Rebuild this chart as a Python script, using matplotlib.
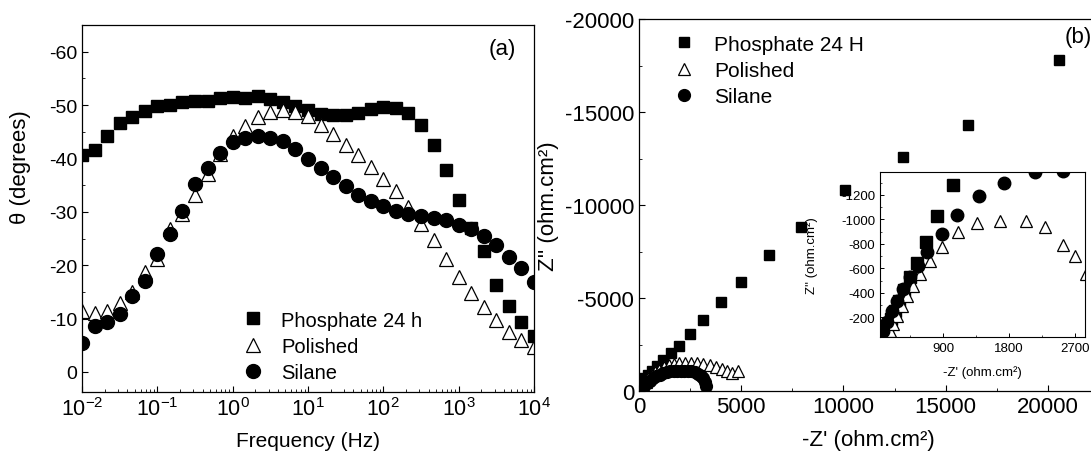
import matplotlib
matplotlib.use("Agg")
import matplotlib.pyplot as plt
import numpy as np
from matplotlib.ticker import MultipleLocator, FixedLocator, NullFormatter

plt.rcParams['font.family'] = ['Liberation Sans', 'DejaVu Sans']
plt.rcParams['mathtext.fontset'] = 'custom'
plt.rcParams['mathtext.rm'] = 'Liberation Sans'
plt.rcParams['mathtext.it'] = 'Liberation Sans:italic'
plt.rcParams['axes.unicode_minus'] = False

# ---- panel (a): Bode phase, 6 points per decade from 1e-2 to 1e4 Hz
freq_exp = np.arange(37) / 6.0 - 2
phase_phosphate = [-40.6, -41.5, -44.2, -46.7, -47.8, -48.8, -49.8, -50.1, -50.6, -50.7,
                   -50.7, -51.4, -51.5, -51.3, -51.7, -51.1, -50.5, -49.8, -49.0, -48.4,
                   -48.1, -48.2, -48.6, -49.2, -49.7, -49.5, -48.5, -46.3, -42.6, -37.8,
                   -32.2, -27.0, -22.6, -16.3, -12.4, -9.3, -6.8]
phase_polished = [-11.5, -11.1, -11.5, -13.0, -14.9, -18.7, -21.2, -26.8, -29.6, -33.1,
                  -37.1, -40.9, -44.3, -46.1, -47.8, -48.7, -49.0, -48.7, -48.0, -46.2,
                  -44.6, -42.6, -40.6, -38.4, -36.2, -33.9, -30.9, -27.7, -24.7, -21.2,
                  -17.7, -14.8, -12.1, -9.7, -7.5, -6.0, -4.6]
phase_silane = [-5.5, -8.6, -9.3, -10.8, -14.3, -17.1, -22.1, -25.9, -30.2, -35.3,
                -38.2, -41.1, -43.0, -43.8, -44.3, -43.8, -43.2, -41.8, -39.9, -38.2,
                -36.6, -34.8, -33.1, -32.1, -31.0, -30.2, -29.6, -29.3, -28.9, -28.4,
                -27.6, -26.8, -25.4, -23.7, -21.6, -19.4, -16.9]
freq_ticks = [1e-2, 1e-1, 1e0, 1e1, 1e2, 1e3, 1e4]

# ---- panel (b): Nyquist
phos_zr = [40, 80, 136, 256, 427, 630, 886, 1191, 1566, 1956, 2518, 3148, 3999, 4971,
           6350, 7948, 10075, 12900, 16087, 20560]
phos_zi = [-100, -250, -503, -683, -863, -1097, -1349, -1672, -2032, -2446, -3057, -3830,
           -4765, -5863, -7337, -8812, -10790, -12590, -14315, -17804]
pol_zr = [100, 200, 320, 460, 620, 800, 1000, 1200, 1450, 1700, 1950, 2250, 2550, 2850,
          3150, 3450, 3750, 4050, 4300, 4550, 4850]
pol_zi = [-150, -320, -500, -680, -850, -1000, -1150, -1280, -1400, -1470, -1510, -1530,
          -1530, -1510, -1470, -1400, -1300, -1180, -1060, -990, -1080]
sil_zr = [150, 260, 380, 520, 680, 850, 1020, 1190, 1360, 1530, 1700, 1870, 2040, 2210,
          2380, 2550, 2720, 2890, 3030, 3150, 3240, 3290]
sil_zi = [-120, -260, -420, -560, -690, -800, -880, -950, -1010, -1050, -1080, -1095,
          -1100, -1095, -1080, -1060, -1010, -940, -830, -680, -480, -250]

# inset (zoom on the high-frequency part)
ins_phos_zr = [67, 94, 135, 181, 240, 299, 363, 445, 546, 664, 819, 1038, 1300]
ins_phos_zi = [-63, -90, -131, -186, -254, -335, -423, -527, -644, -818, -1026, -1282, -1600]
ins_pol_zr = [117, 140, 172, 217, 263, 332, 400, 491, 582, 719, 880, 1107, 1358, 1677,
              2028, 2292, 2534, 2703, 2860]
ins_pol_zi = [-49, -65, -90, -145, -213, -294, -376, -458, -554, -663, -777, -895, -971,
              -990, -990, -941, -791, -703, -554]
ins_sil_zr = [80, 126, 195, 263, 354, 445, 560, 682, 879, 1084, 1394, 1736, 2156, 2543]
ins_sil_zi = [-90, -159, -254, -335, -431, -527, -622, -731, -881, -1036, -1189, -1298,
              -1386, -1399]

W, H = 1091, 452
fig = plt.figure(figsize=(W / 100, H / 100), dpi=100)

# ---------------- (a)
ax1 = fig.add_axes([82 / W, 1 - 393 / H, 452 / W, 367 / H])
f = 10 ** freq_exp
ax1.plot(f, phase_phosphate, 's', ms=8, color='black', mec='black', label='Phosphate 24 h')
ax1.plot(f, phase_polished, '^', ms=9.5, mfc='white', mec='black', mew=0.9, label='Polished')
ax1.plot(f, phase_silane, 'o', ms=10, color='black', label='Silane')
ax1.set_xscale('log')
ax1.set_xlim(1e-2, 1e4)
ax1.set_ylim(3.75, -65)
ax1.yaxis.set_major_locator(MultipleLocator(10))
ax1.yaxis.set_minor_locator(MultipleLocator(5))
ax1.set_xticks(freq_ticks)
minor_f = [m * 10.0 ** e for e in range(-2, 4) for m in range(2, 10)]
ax1.xaxis.set_minor_locator(FixedLocator(minor_f))
ax1.xaxis.set_minor_formatter(NullFormatter())
ax1.set_xlabel('Frequency (Hz)', fontsize=15)
ax1.set_ylabel('θ (degrees)', fontsize=16)
ax1.xaxis.set_label_coords(0.5, -0.106)
ax1.yaxis.set_label_coords(-0.113, 0.616)
ax1.text(0.929, 0.937, '(a)', transform=ax1.transAxes, fontsize=16, ha='center', va='center')
ax1.legend(loc='upper left', bbox_to_anchor=(0.357, 0.222), frameon=False, fontsize=14.5,
           borderpad=0, borderaxespad=0, handlelength=1.0, handletextpad=0.88,
           labelspacing=0.37, numpoints=1)

# ---------------- (b)
ax2 = fig.add_axes([639 / W, 1 - 392 / H, 460 / W, 372 / H])
ax2.plot(phos_zr, phos_zi, 's', ms=7.5, color='black', label='Phosphate 24 H')
ax2.plot(pol_zr, pol_zi, '^', ms=8.5, mfc='white', mec='black', mew=0.9, label='Polished')
ax2.plot(sil_zr, sil_zi, 'o', ms=8.5, color='black', label='Silane')
ax2.set_xlim(0, 22500)
ax2.set_ylim(0, -20000)
ax2.set_xticks([0, 5000, 10000, 15000, 20000])
ax2.xaxis.set_minor_locator(MultipleLocator(2500))
ax2.yaxis.set_major_locator(MultipleLocator(5000))
ax2.yaxis.set_minor_locator(MultipleLocator(2500))
ax2.set_xlabel("-Z' (ohm.cm²)", fontsize=16)
ax2.set_ylabel("Z'' (ohm.cm²)", fontsize=16)
ax2.xaxis.set_label_coords(0.498, -0.102)
ax2.yaxis.set_label_coords(-0.174, 0.5)
ax2.text(0.954, 0.952, '(b)', transform=ax2.transAxes, fontsize=16, ha='center', va='center')
ax2.legend(loc='upper left', bbox_to_anchor=(0.075, 0.958), frameon=False, fontsize=15,
           borderpad=0, borderaxespad=0, handlelength=1.0, handletextpad=0.94,
           labelspacing=0.35, numpoints=1)

for ax, fs in ((ax1, 14), (ax2, 16)):
    ax.tick_params(which='both', direction='in', top=False, right=False, labelsize=fs)
    ax.tick_params(which='major', length=4, width=0.8)
    ax.tick_params(which='minor', length=2, width=0.6)
    for s in ax.spines.values():
        s.set_linewidth(0.9)
ax1.tick_params(axis='x', labelsize=15.5)

# ---------------- inset
ax3 = fig.add_axes([880 / W, 1 - 338 / H, 205 / W, 165 / H])
ax3.plot(ins_phos_zr, ins_phos_zi, 's', ms=8, color='black')
ax3.plot(ins_pol_zr, ins_pol_zi, '^', ms=9, mfc='white', mec='black', mew=0.9)
ax3.plot(ins_sil_zr, ins_sil_zi, 'o', ms=9, color='black')
ax3.set_xlim(35, 2840)
ax3.set_ylim(-38, -1388)
ax3.set_xticks([900, 1800, 2700])
ax3.xaxis.set_minor_locator(MultipleLocator(450))
ax3.set_yticks([-1200, -1000, -800, -600, -400, -200])
ax3.yaxis.set_minor_locator(MultipleLocator(100))
ax3.tick_params(which='both', direction='in', top=False, right=False, labelsize=9.5)
ax3.tick_params(which='major', length=3, width=0.7)
ax3.tick_params(which='minor', length=1.5, width=0.5)
ax3.set_xlabel("-Z' (ohm.cm²)", fontsize=9.5)
ax3.set_ylabel("Z'' (ohm.cm²)", fontsize=9.5)
ax3.xaxis.set_label_coords(0.5, -0.17)
ax3.yaxis.set_label_coords(-0.30, 0.5)
for s in ax3.spines.values():
    s.set_linewidth(0.8)

fig.savefig('out.png', dpi=100)
